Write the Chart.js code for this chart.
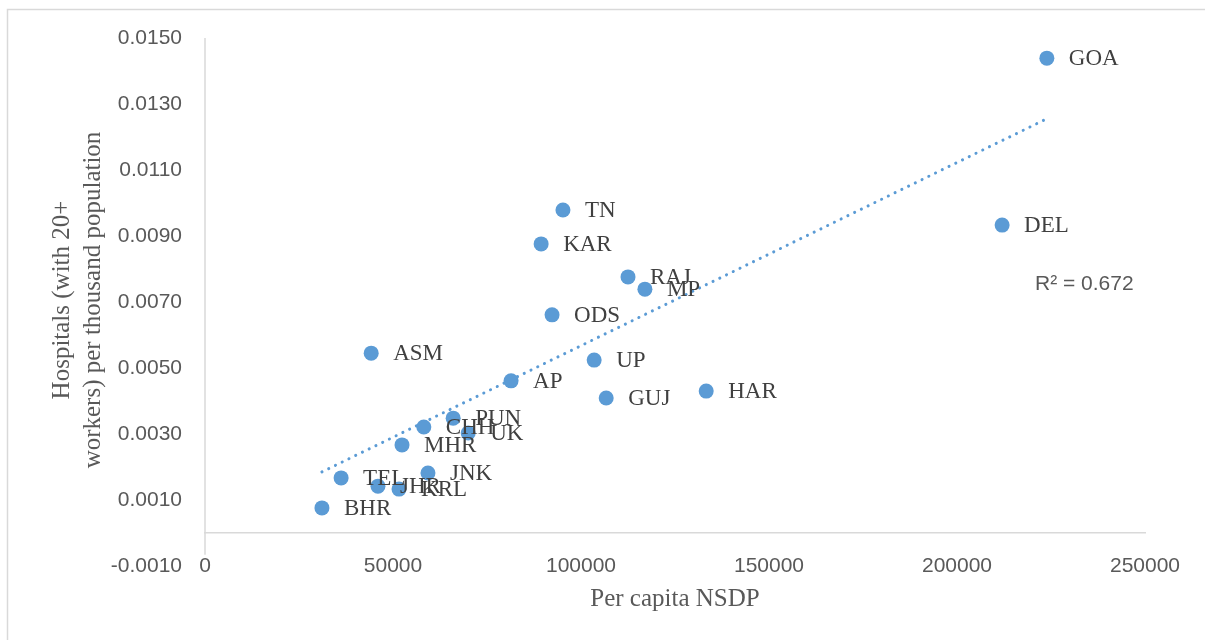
<!DOCTYPE html>
<html>
<head>
<meta charset="utf-8">
<script src="https://cdn.jsdelivr.net/npm/chart.js@4/dist/chart.umd.min.js"></script>
<style>
  html, body { margin: 0; padding: 0; background: #ffffff; }
  #wrap { width: 1205px; height: 640px; position: relative; }
</style>
</head>
<body>
<div id="wrap"><canvas id="chart" width="1205" height="640"></canvas></div>
<script>
// State codes
const states = ['GOA', 'DEL', 'TN', 'KAR', 'RAJ', 'MP', 'ODS', 'ASM', 'UP', 'AP', 'GUJ',
                'HAR', 'PUN', 'CHH', 'UK', 'MHR', 'JNK', 'TEL', 'JHR', 'KRL', 'BHR'];
// Per capita NSDP
const nsdp = [223900, 212000, 95200, 89400, 112500, 117000, 92300, 44200, 103500, 81400, 106700,
              133300, 66000, 58200, 70000, 52400, 59300, 36200, 46000, 51600, 31100];
// Hospitals (with 20+ workers) per thousand population
const hospitals = [0.01439, 0.00933, 0.00979, 0.00876, 0.00776, 0.00739, 0.00661, 0.00545, 0.00524, 0.00461, 0.00409,
                   0.00430, 0.00348, 0.00321, 0.00303, 0.00267, 0.00182, 0.00167, 0.00142, 0.00133, 0.00076];
const xTicks = [0, 50000, 100000, 150000, 200000, 250000];
const yTicks = [-0.001, 0.001, 0.003, 0.005, 0.007, 0.009, 0.011, 0.013, 0.015];
const rSquaredLabel = 'R² = 0.672';

const points = nsdp.map((x, i) => ({ x: x, y: hospitals[i] }));

// Least-squares linear trend
const n = nsdp.length;
const mx = nsdp.reduce((a, b) => a + b, 0) / n;
const my = hospitals.reduce((a, b) => a + b, 0) / n;
let sxy = 0, sxx = 0;
for (let i = 0; i < n; i++) {
  sxy += (nsdp[i] - mx) * (hospitals[i] - my);
  sxx += (nsdp[i] - mx) * (nsdp[i] - mx);
}
const slope = sxy / sxx;
const intercept = my - slope * mx;
const xMin = Math.min(...nsdp), xMax = Math.max(...nsdp);
const trend = [{ x: xMin, y: intercept + slope * xMin }, { x: xMax, y: intercept + slope * xMax }];

const BLUE = '#5b9bd5';
const AXIS = '#d9d9d9';
const SERIF = '"Liberation Serif", "Times New Roman", serif';
const SANS = '"Liberation Sans", Arial, sans-serif';

const decorations = {
  id: 'decorations',
  beforeDraw(chart) {
    const ctx = chart.ctx;
    ctx.save();
    // outer frame
    ctx.strokeStyle = AXIS;
    ctx.lineWidth = 1.5;
    ctx.beginPath();
    ctx.moveTo(7.5, 640);
    ctx.lineTo(7.5, 9.5);
    ctx.lineTo(1205, 9.5);
    ctx.stroke();
    ctx.restore();
  },
  beforeDatasetsDraw(chart) {
    // vertical value axis, stopping a little below the horizontal axis
    const ctx = chart.ctx;
    const xs = chart.scales.x, ys = chart.scales.y;
    const x0 = xs.getPixelForValue(0);
    ctx.save();
    ctx.strokeStyle = AXIS;
    ctx.lineWidth = 1.5;
    ctx.beginPath();
    ctx.moveTo(x0, ys.getPixelForValue(0.015));
    ctx.lineTo(x0, ys.getPixelForValue(-0.00066));
    ctx.stroke();
    ctx.restore();
  },
  afterDatasetsDraw(chart) {
    const ctx = chart.ctx;
    const xs = chart.scales.x, ys = chart.scales.y;
    ctx.save();
    // point labels
    ctx.fillStyle = '#404040';
    ctx.font = '23px ' + SERIF;
    ctx.textAlign = 'left';
    ctx.textBaseline = 'middle';
    states.forEach((s, i) => {
      ctx.fillText(s, xs.getPixelForValue(nsdp[i]) + 22, ys.getPixelForValue(hospitals[i]) + 1);
    });
    // R² label
    ctx.fillStyle = '#595959';
    ctx.font = '21px ' + SANS;
    ctx.fillText(rSquaredLabel, 1035, 284);
    // axis titles
    ctx.font = '25px ' + SERIF;
    ctx.textAlign = 'center';
    ctx.fillText('Per capita NSDP', (chart.chartArea.left + chart.chartArea.right) / 2, 599);
    ctx.translate(77, 300);
    ctx.rotate(-Math.PI / 2);
    ctx.fillText('Hospitals (with 20+', 0, -15);
    ctx.fillText('workers) per thousand population', 0, 16);
    ctx.restore();
  }
};

new Chart(document.getElementById('chart'), {
  type: 'scatter',
  data: {
    datasets: [
      {
        label: 'Hospitals',
        data: points,
        backgroundColor: BLUE,
        borderWidth: 0,
        pointRadius: 7.5,
        pointHoverRadius: 7.5
      },
      {
        type: 'line',
        label: 'Linear trend',
        data: trend,
        borderColor: BLUE,
        borderWidth: 3,
        borderDash: [0.1, 7.4],
        borderCapStyle: 'round',
        pointRadius: 0,
        fill: false
      }
    ]
  },
  options: {
    responsive: false,
    animation: false,
    layout: { padding: { top: 38, left: 0, right: 60, bottom: 74 } },
    plugins: { legend: { display: false }, tooltip: { enabled: false } },
    scales: {
      x: {
        type: 'linear',
        position: { y: 0 },
        min: 0,
        max: 250000,
        afterBuildTicks(scale) { scale.ticks = xTicks.map(v => ({ value: v })); },
        grid: { display: false, drawTicks: false },
        border: { display: true, color: AXIS, width: 1.5 },
        ticks: {
          padding: 21,
          color: '#595959',
          font: { family: SANS, size: 21 },
          maxRotation: 0,
          callback: v => String(v)
        }
      },
      y: {
        type: 'linear',
        min: -0.001,
        max: 0.015,
        afterFit(scale) { scale.width = 205; },
        afterBuildTicks(scale) { scale.ticks = yTicks.map(v => ({ value: v })); },
        grid: { display: false, drawTicks: false },
        border: { display: false },
        ticks: {
          padding: 23,
          color: '#595959',
          font: { family: SANS, size: 21 },
          callback: v => v.toFixed(4)
        }
      }
    }
  },
  plugins: [decorations]
});
</script>
</body>
</html>
